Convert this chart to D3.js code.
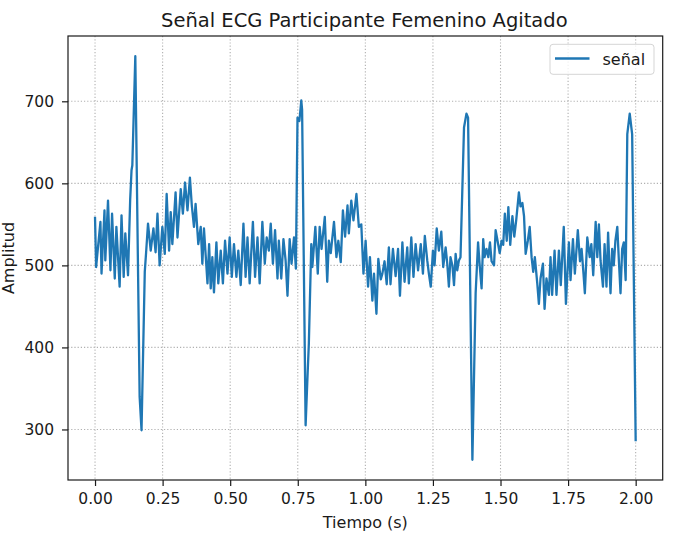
<!DOCTYPE html>
<html>
<head>
<meta charset="utf-8">
<script src="https://cdn.jsdelivr.net/npm/d3@7"></script>
<style>
  body { margin: 0; background: #fff; }
  svg { font-family: "DejaVu Sans", sans-serif; }
</style>
</head>
<body>
<svg id="chart" width="694" height="535"></svg>
<script>
// ===============================================================
//  Señal ECG - participante femenino agitado
// ===============================================================

// pares [tiempo (s), amplitud], por tramos
const tramoA = [
    [0.000, 558], [0.004, 498], [0.020, 553], [0.024, 490], [0.035, 567], [0.038, 506],
    [0.048, 579], [0.057, 494], [0.063, 563], [0.073, 484], [0.079, 547], [0.091, 474],
    [0.098, 561], [0.106, 486], [0.112, 539], [0.122, 488], [0.130, 580], [0.135, 616],
    [0.138, 622], [0.149, 755], [0.165, 340], [0.172, 299], [0.184, 492], [0.189, 516],
    [0.196, 551], [0.206, 518], [0.216, 545], [0.224, 516], [0.231, 563], [0.239, 500],
    [0.249, 547], [0.258, 514], [0.265, 587], [0.274, 518], [0.280, 565], [0.286, 526],
    [0.298, 589], [0.305, 534], [0.317, 593], [0.325, 563], [0.333, 601], [0.342, 567],
    [0.351, 607], [0.358, 573], [0.366, 547], [0.372, 575], [0.382, 526], [0.391, 547],
    [0.397, 502], [0.403, 545], [0.416, 478], [0.422, 526], [0.428, 472], [0.434, 510],
    [0.440, 467], [0.449, 528], [0.456, 478], [0.465, 518], [0.473, 478], [0.481, 530],
    [0.490, 490], [0.498, 534]
];

const tramoB = [
    [0.506, 486], [0.514, 526], [0.523, 486], [0.530, 518], [0.539, 476], [0.549, 551],
    [0.557, 486], [0.564, 534], [0.572, 478], [0.584, 553], [0.592, 486], [0.601, 534],
    [0.609, 478], [0.619, 553], [0.628, 502], [0.635, 534], [0.643, 518], [0.650, 551],
    [0.658, 502], [0.666, 543], [0.675, 484], [0.680, 530], [0.689, 484], [0.697, 532],
    [0.705, 506], [0.712, 463], [0.720, 532], [0.727, 502], [0.736, 534], [0.743, 496],
    [0.749, 680], [0.756, 676], [0.763, 701], [0.766, 690], [0.779, 305], [0.785, 356],
    [0.791, 405], [0.800, 526], [0.804, 498], [0.815, 547], [0.824, 490], [0.831, 547],
    [0.838, 520], [0.850, 559], [0.859, 480], [0.865, 530], [0.872, 515], [0.884, 553],
    [0.893, 510], [0.900, 530], [0.909, 504], [0.917, 567], [0.925, 535], [0.934, 573],
    [0.939, 539], [0.948, 579], [0.956, 555], [0.967, 587], [0.976, 547], [0.985, 550],
    [0.993, 490]
];

const tramoC = [
    [1.001, 530], [1.010, 474], [1.017, 510], [1.026, 457], [1.032, 490], [1.041, 441],
    [1.048, 508], [1.057, 483], [1.063, 490], [1.071, 505], [1.079, 477], [1.087, 522],
    [1.093, 477], [1.102, 520], [1.112, 487], [1.121, 520], [1.128, 463], [1.137, 528],
    [1.145, 480], [1.155, 522], [1.161, 478], [1.170, 534], [1.178, 486], [1.186, 526],
    [1.195, 494], [1.205, 526], [1.213, 490], [1.220, 536], [1.229, 506], [1.235, 490],
    [1.242, 474], [1.250, 518], [1.256, 500], [1.264, 545], [1.272, 518], [1.281, 541],
    [1.288, 498], [1.297, 522], [1.303, 502], [1.309, 474], [1.315, 510], [1.322, 500],
    [1.328, 476], [1.334, 514], [1.340, 494], [1.346, 506], [1.352, 510], [1.365, 668],
    [1.374, 685], [1.380, 680], [1.396, 263], [1.408, 466], [1.417, 528], [1.423, 500],
    [1.430, 472], [1.436, 532], [1.441, 510], [1.448, 520], [1.455, 510], [1.461, 528],
    [1.467, 505], [1.476, 500], [1.482, 543], [1.489, 530], [1.497, 515]
];

const tramoD = [
    [1.504, 530], [1.510, 525], [1.516, 563], [1.523, 530], [1.529, 571], [1.536, 525],
    [1.544, 560], [1.551, 535], [1.558, 555], [1.568, 589], [1.574, 572], [1.581, 576],
    [1.587, 560], [1.593, 514], [1.601, 530], [1.608, 547], [1.615, 510], [1.621, 492],
    [1.627, 510], [1.636, 478], [1.642, 453], [1.648, 484], [1.657, 502], [1.663, 447],
    [1.670, 484], [1.679, 464], [1.685, 510], [1.691, 464], [1.700, 518], [1.707, 464],
    [1.716, 518], [1.723, 476], [1.734, 547], [1.742, 453], [1.753, 528], [1.759, 482],
    [1.768, 532], [1.775, 490], [1.786, 543], [1.794, 505], [1.800, 520], [1.807, 490],
    [1.812, 466], [1.821, 534], [1.830, 510], [1.836, 526], [1.843, 488], [1.852, 553],
    [1.858, 510], [1.864, 550], [1.870, 506], [1.879, 474], [1.885, 526], [1.892, 474],
    [1.898, 540], [1.907, 466], [1.913, 520], [1.919, 500], [1.925, 530], [1.932, 547],
    [1.938, 505], [1.944, 466], [1.950, 520], [1.956, 528], [1.963, 482], [1.969, 660],
    [1.978, 685], [1.987, 660], [2.000, 287]
];

const xTicks = [0, 0.25, 0.5, 0.75, 1.0, 1.25, 1.5, 1.75, 2.0];
const yTicks = [300, 400, 500, 600, 700];

const titulo = "Señal ECG Participante Femenino Agitado";
const etiquetaX = "Tiempo (s)";
const etiquetaY = "Amplitud";
const leyenda = "señal";

// === LAYOUT ====================================================

const svg = d3.select("#chart");
const pLeft = 68, pRight = 662.7, pTop = 36, pBottom = 480;
const BLUE = "#1f77b4";
const TXT = "#1a1a1a";

const datos = tramoA.concat(tramoB, tramoC, tramoD);

// margenes del 5% como matplotlib
const tExt = d3.extent(datos, d => d[0]);
const vExt = d3.extent(datos, d => d[1]);
const tPad = (tExt[1] - tExt[0]) * 0.05;
const vPad = (vExt[1] - vExt[0]) * 0.05;

const x = d3.scaleLinear().domain([tExt[0] - tPad, tExt[1] + tPad]).range([pLeft, pRight]);
const y = d3.scaleLinear().domain([vExt[0] - vPad, vExt[1] + vPad]).range([pBottom, pTop]);

// grid
const grid = svg.append("g")
    .attr("stroke", "#b0b0b0")
    .attr("stroke-width", 1.1)
    .attr("stroke-dasharray", "1.2,2");

grid.selectAll("line.gx").data(xTicks).enter().append("line")
    .attr("x1", d => x(d)).attr("x2", d => x(d))
    .attr("y1", pTop).attr("y2", pBottom);

grid.selectAll("line.gy").data(yTicks).enter().append("line")
    .attr("x1", pLeft).attr("x2", pRight)
    .attr("y1", d => y(d)).attr("y2", d => y(d));

// signal
const line = d3.line().x(d => x(d[0])).y(d => y(d[1]));

svg.append("path")
    .datum(datos)
    .attr("fill", "none")
    .attr("stroke", BLUE)
    .attr("stroke-width", 2.3)
    .attr("stroke-linejoin", "round")
    .attr("stroke-linecap", "square")
    .attr("d", line);

// axes
const xAxis = svg.append("g")
    .attr("transform", `translate(0,${pBottom})`)
    .call(d3.axisBottom(x).tickValues(xTicks).tickFormat(d3.format(".2f")).tickSize(6).tickPadding(7));

const yAxis = svg.append("g")
    .attr("transform", `translate(${pLeft},0)`)
    .call(d3.axisLeft(y).tickValues(yTicks).tickFormat(d3.format("d")).tickSize(6).tickPadding(8));

[xAxis, yAxis].forEach(ax => {
    ax.select(".domain").remove();
    ax.selectAll(".tick line").attr("stroke", TXT).attr("stroke-width", 1.2);
    ax.selectAll(".tick text")
        .attr("fill", TXT)
        .style("font-family", "DejaVu Sans")
        .style("font-size", "15.5px");
});

// frame
svg.append("rect")
    .attr("x", pLeft).attr("y", pTop)
    .attr("width", pRight - pLeft).attr("height", pBottom - pTop)
    .attr("fill", "none")
    .attr("stroke", TXT)
    .attr("stroke-width", 1.2);

// title + labels
svg.append("text")
    .attr("x", (pLeft + pRight) / 2 - 1).attr("y", 26.5)
    .attr("text-anchor", "middle")
    .attr("fill", TXT)
    .style("font-size", "19.5px")
    .text(titulo);

svg.append("text")
    .attr("x", (pLeft + pRight) / 2).attr("y", 528)
    .attr("text-anchor", "middle")
    .attr("fill", TXT)
    .style("font-size", "16px")
    .text(etiquetaX);

svg.append("text")
    .attr("transform", `translate(13.5,${(pTop + pBottom) / 2}) rotate(-90)`)
    .attr("text-anchor", "middle")
    .attr("fill", TXT)
    .style("font-size", "16px")
    .text(etiquetaY);

// legend
const lg = svg.append("g");
lg.append("rect")
    .attr("x", 550).attr("y", 44.3)
    .attr("width", 104).attr("height", 30)
    .attr("rx", 3)
    .attr("fill", "#fff").attr("fill-opacity", 0.8)
    .attr("stroke", "#d5d5d5");
lg.append("line")
    .attr("x1", 555).attr("x2", 589.5)
    .attr("y1", 58.5).attr("y2", 58.5)
    .attr("stroke", BLUE).attr("stroke-width", 2.3);
lg.append("text")
    .attr("x", 602.5).attr("y", 64.5)
    .attr("fill", TXT)
    .style("font-size", "16px")
    .text(leyenda);
</script>
</body>
</html>
